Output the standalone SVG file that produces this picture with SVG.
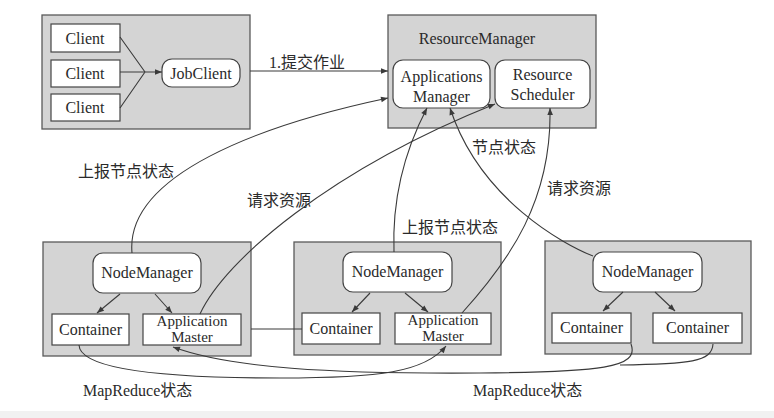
<svg xmlns="http://www.w3.org/2000/svg" width="774" height="418" viewBox="0 0 774 418">
<defs>
<style>
.grp{fill:#d4d4d4;stroke:#5a5a5a;stroke-width:1.3}
.box{fill:#fff;stroke:#444;stroke-width:1.2}
text{font-family:'Liberation Serif','Times New Roman','DejaVu Serif','Noto Sans CJK SC',serif;fill:#2a2a2a}
.t{font-size:16px;text-anchor:middle}
.s{font-size:15px}
.lbl{font-size:16px}
.ln{fill:none;stroke:#3a3a3a;stroke-width:1.1}
.ar{marker-end:url(#ah)}
</style>
<marker id="ah" viewBox="0 0 10 10" refX="10" refY="5" markerWidth="9" markerHeight="7" markerUnits="userSpaceOnUse" orient="auto">
<path d="M0,1 L10,5 L0,9 z" fill="#3a3a3a"/>
</marker>
</defs>
<rect x="0" y="0" width="774" height="418" fill="#fff"/>
<rect x="0" y="411" width="774" height="7" fill="#f1f1f1"/>

<g id="client-group">
<rect class="grp" x="42" y="15" width="208" height="114"/>
</g>
<g id="client1"><rect class="box" x="51" y="24" width="69" height="28"/><text class="t" x="85" y="44">Client</text></g>
<g id="client2"><rect class="box" x="51" y="60" width="69" height="27"/><text class="t" x="85" y="79">Client</text></g>
<g id="client3"><rect class="box" x="51" y="94" width="69" height="27"/><text class="t" x="85" y="113">Client</text></g>
<g id="jobclient"><rect class="box" x="162" y="59" width="78" height="28" rx="10"/><text class="t" x="201" y="79">JobClient</text></g>

<g id="resourcemanager">
<rect class="grp" x="388" y="15" width="208" height="113"/>
<text class="t" x="477" y="44">ResourceManager</text>
</g>
<g id="applications-manager"><rect class="box" x="393" y="60" width="97" height="48" rx="10"/><text class="t" x="441.5" y="82">Applications</text><text class="t" x="441.5" y="102">Manager</text></g>
<g id="resource-scheduler"><rect class="box" x="495" y="60" width="95" height="48" rx="10"/><text class="t" x="542.5" y="80">Resource</text><text class="t" x="542.5" y="100">Scheduler</text></g>

<g id="node1">
<rect class="grp" x="43" y="242" width="208" height="114"/>
</g>
<g id="nodemanager1"><rect class="box" x="93" y="253" width="108" height="40" rx="10"/><text class="t" x="147" y="278">NodeManager</text></g>
<g id="container1"><rect class="box" x="52" y="314" width="77" height="31"/><text class="t" x="90.5" y="335">Container</text></g>
<g id="appmaster1"><rect class="box" x="143" y="314" width="98" height="31"/><text class="t s" x="192" y="326">Application</text><text class="t s" x="192" y="342">Master</text></g>

<g id="node2">
<rect class="grp" x="294" y="242" width="207" height="113"/>
</g>
<g id="nodemanager2"><rect class="box" x="343" y="252" width="109" height="40" rx="10"/><text class="t" x="397.5" y="277">NodeManager</text></g>
<g id="container2"><rect class="box" x="302" y="313" width="78" height="31"/><text class="t" x="341" y="334">Container</text></g>
<g id="appmaster2"><rect class="box" x="395" y="313" width="96" height="31"/><text class="t s" x="443" y="325">Application</text><text class="t s" x="443" y="341">Master</text></g>

<g id="node3">
<rect class="grp" x="545" y="241" width="206" height="113"/>
</g>
<g id="nodemanager3"><rect class="box" x="593" y="252" width="109" height="40" rx="10"/><text class="t" x="647.5" y="277">NodeManager</text></g>
<g id="container3a"><rect class="box" x="552" y="313" width="79" height="30"/><text class="t" x="591.5" y="333">Container</text></g>
<g id="container3b"><rect class="box" x="653" y="313" width="89" height="30"/><text class="t" x="697.5" y="333">Container</text></g>

<g id="connectors">
<path class="ln" d="M120,37 L145,72 M120,108 L145,72"/>
<path class="ln ar" d="M120,72 L162,72"/>
<path class="ln ar" d="M250,71 L388,71"/>
<path class="ln ar" d="M120,294 L97,313"/>
<path class="ln ar" d="M155,294 L172,313"/>
<path class="ln ar" d="M370,293 L352,312"/>
<path class="ln ar" d="M405,293 L428,312"/>
<path class="ln ar" d="M623,292 L603,311"/>
<path class="ln ar" d="M655,292 L675,311"/>
<path class="ln" d="M251,329 L302,329"/>
<path class="ln ar" d="M132,253 C 125,175 260,125 388,98"/>
<path class="ln ar" d="M200,314 C 225,260 330,170 495,104"/>
<path class="ln ar" d="M394,252 C 392,200 405,150 427,108"/>
<path class="ln ar" d="M593,256 C 565,245 480,200 450,108"/>
<path class="ln ar" d="M462,313 C 510,260 552,200 550,108"/>
<path class="ln ar" d="M79,345 C 80,372 180,378 280,378 C 380,378 425,372 446,346"/>
<path class="ln ar" d="M631,344 C 640,368 600,372 480,373 C 330,374 230,368 173,347"/>
<path class="ln" d="M713,344 C 712,362 690,364 620,365"/>
</g>

<g id="labels">
<text class="lbl" x="269" y="68">1.提交作业</text>
<text class="lbl" x="78" y="177">上报节点状态</text>
<text class="lbl" x="247" y="206">请求资源</text>
<text class="lbl" x="472" y="153">节点状态</text>
<text class="lbl" x="547" y="194">请求资源</text>
<text class="lbl" x="402" y="233">上报节点状态</text>
<text class="lbl" x="83" y="396">MapReduce状态</text>
<text class="lbl" x="473" y="396">MapReduce状态</text>
</g>
</svg>
